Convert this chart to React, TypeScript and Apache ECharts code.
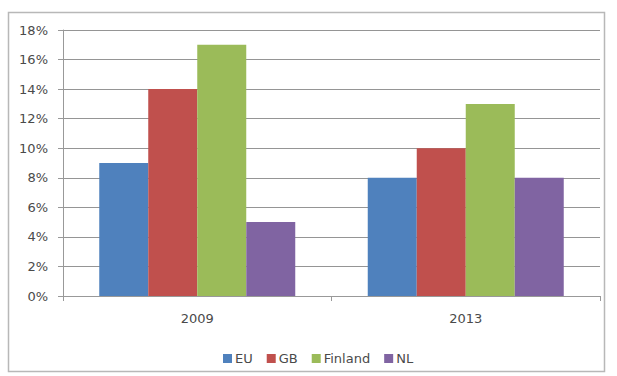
import React, { useEffect, useRef } from "react";
import * as echarts from "echarts";

const categories = ["2009", "2013"];
const seriesNames = ["EU", "GB", "Finland", "NL"];
const euValues = [9, 8];
const gbValues = [14, 10];
const finlandValues = [17, 13];
const nlValues = [5, 8];
const colors = ["#4F81BD", "#C0504D", "#9BBB59", "#8064A2"];

export default function App() {
  const ref = useRef<HTMLDivElement>(null);
  useEffect(() => {
    if (!ref.current) return;
    const chart = echarts.init(ref.current, null, { renderer: "svg" });
    const font = "'DejaVu Sans', sans-serif";
    const data = [euValues, gbValues, finlandValues, nlValues];
    chart.setOption({
      animation: false,
      backgroundColor: "#ffffff",
      textStyle: { fontFamily: font },
      graphic: [
        {
          type: "rect",
          shape: { x: 8.5, y: 12.5, width: 596, height: 359 },
          style: { fill: "none", stroke: "#b8b8b8", lineWidth: 1.5 },
          silent: true,
        },
      ],
      grid: { left: 63, right: 17, top: 30, bottom: 80 },
      legend: {
        left: 218,
        top: 347,
        itemWidth: 9,
        itemHeight: 9,
        itemGap: 14,
        icon: "rect",
        textStyle: { fontSize: 13, color: "#4a4a4a", fontFamily: font, padding: [0, 0, 0, -2] },
        data: seriesNames,
      },
      xAxis: {
        type: "category",
        data: categories,
        axisLine: { lineStyle: { color: "#999", width: 1 } },
        axisTick: { show: true, interval: 0, length: 5, lineStyle: { color: "#999" } },
        axisLabel: { fontSize: 13, color: "#4a4a4a", margin: 16, fontFamily: font },
      },
      yAxis: {
        type: "value",
        min: 0,
        max: 18,
        interval: 2,
        axisLine: { show: true, lineStyle: { color: "#999" } },
        axisTick: { show: true, length: 5, lineStyle: { color: "#999" } },
        axisLabel: {
          fontSize: 13,
          color: "#4a4a4a",
          margin: 15,
          fontFamily: font,
          formatter: (v: number) => Math.round(v) + "%",
        },
        splitLine: { show: true, lineStyle: { color: "#959595", width: 1.2 } },
      },
      series: seriesNames.map((name, i) => ({
        name,
        type: "bar",
        data: data[i],
        barGap: "0%",
        barCategoryGap: "27%",
        itemStyle: { color: colors[i] },
      })),
    });
    return () => chart.dispose();
  }, []);
  return (
    <div
      ref={ref}
      style={{ position: "fixed", left: 0, top: 0, width: 617, height: 376 }}
    />
  );
}
